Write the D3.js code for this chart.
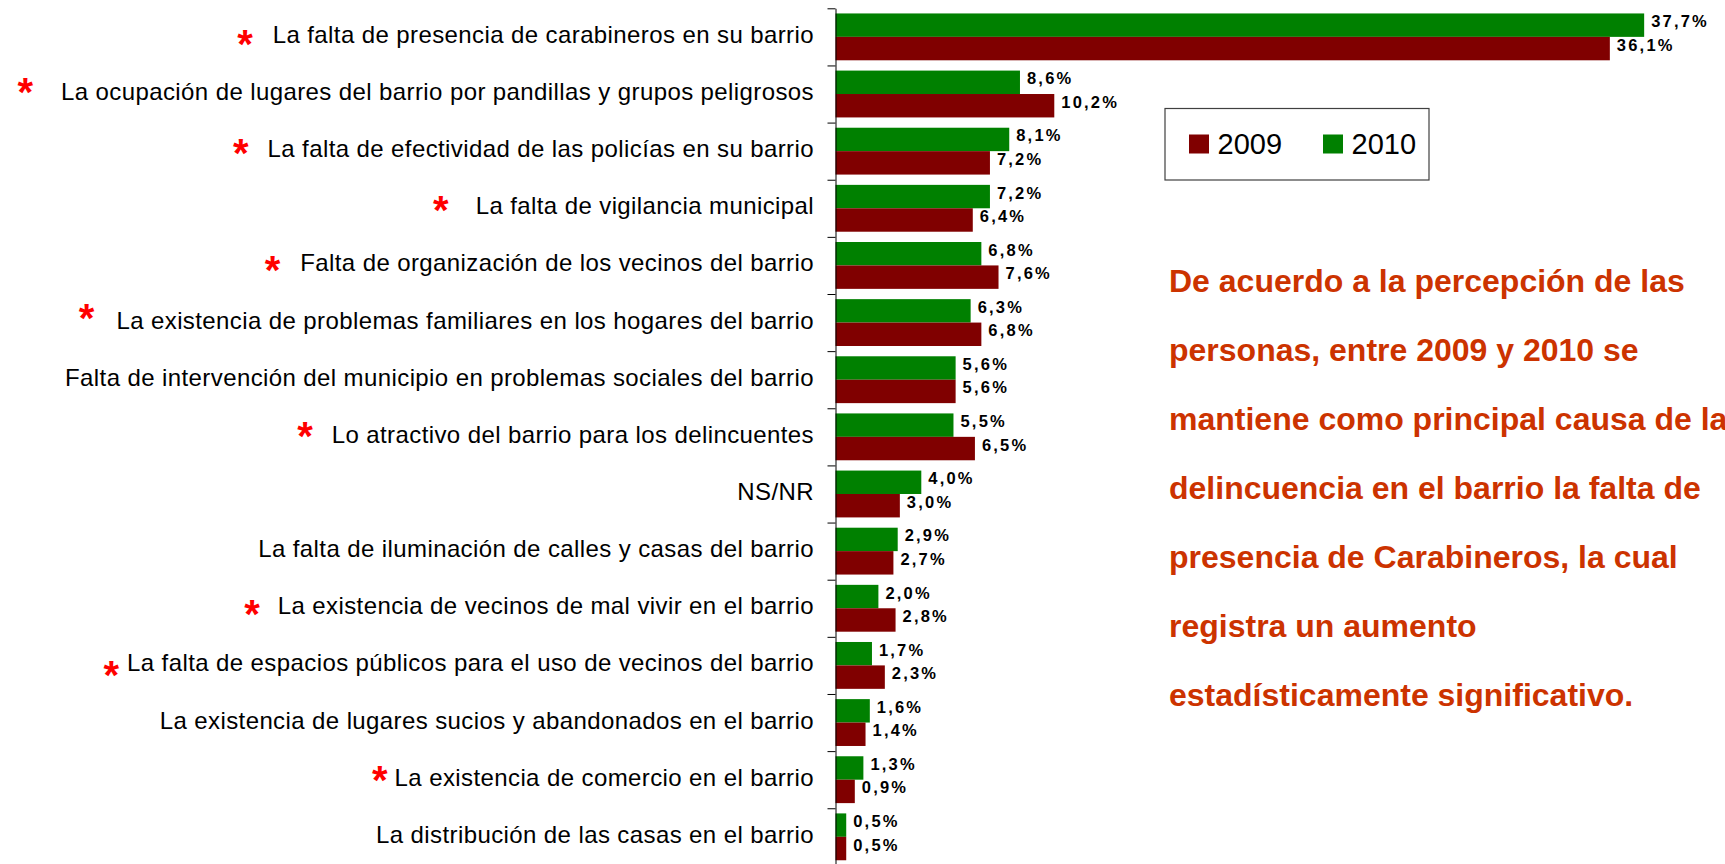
<!DOCTYPE html>
<html>
<head>
<meta charset="utf-8">
<script src="https://cdn.jsdelivr.net/npm/d3@7"></script>
<style>
  html, body { margin: 0; padding: 0; background: #fff; }
  svg { display: block; font-family: "Liberation Sans", Arial, sans-serif; }
</style>
</head>
<body>
<svg id="chart" width="1725" height="864"></svg>
<script>
// ---- data ----
var categories = [
  "La falta de presencia de carabineros en su barrio",
  "La ocupación de lugares del barrio por pandillas y grupos peligrosos",
  "La falta de efectividad de las policías en su barrio",
  "La falta de vigilancia municipal",
  "Falta de organización de los vecinos del barrio",
  "La existencia de problemas familiares en los hogares del barrio",
  "Falta de intervención del municipio en problemas sociales del barrio",
  "Lo atractivo del barrio para los delincuentes",
  "NS/NR",
  "La falta de iluminación de calles y casas del barrio",
  "La existencia de vecinos de mal vivir en el barrio",
  "La falta de espacios públicos para el uso de vecinos del barrio",
  "La existencia de lugares sucios y abandonados en el barrio",
  "La existencia de comercio en el barrio",
  "La distribución de las casas en el barrio"
];
var values2010 = [37.7, 8.6, 8.1, 7.2, 6.8, 6.3, 5.6, 5.5, 4.0, 2.9, 2.0, 1.7, 1.6, 1.3, 0.5];
var values2009 = [36.1, 10.2, 7.2, 6.4, 7.6, 6.8, 5.6, 6.5, 3.0, 2.7, 2.8, 2.3, 1.4, 0.9, 0.5];
var starred = [true, true, true, true, true, true, false, true, false, false, true, true, false, true, false];
var seriesNames = ["2009", "2010"];
var annotationLines = [
  "De acuerdo a la percepción de las",
  "personas, entre 2009 y 2010 se",
  "mantiene como principal causa de la",
  "delincuencia en el barrio la falta de",
  "presencia de Carabineros, la cual",
  "registra un aumento",
  "estadísticamente significativo."
];

// asterisk placement per row: [gap to label, vertical shift] (layout only)
var starLayout = [[20, -2], [28, -11], [19, -7], [27, -7], [20, -4], [22, -13], [0, 0], [19, -10],
  [0, 0], [0, 0], [18, -3], [8, 1], [0, 0], [7, -8], [0, 0]];

var colors = { "2009": "#800000", "2010": "#008000" };

var rows = categories.map(function(c, i) {
  return { cat: c, i: i, "2010": values2010[i], "2009": values2009[i], star: starred[i] };
});

var svg = d3.select("#chart");

var axisX = 835.5;
var x = d3.scaleLinear().domain([0, 40]).range([axisX, axisX + 858]);
var y = d3.scaleBand().domain(categories).range([8.3, 865.4])
  .paddingInner(0.18).paddingOuter(0.09);
var ySub = d3.scaleBand().domain(["2010", "2009"]).range([0, y.bandwidth()]);
var yEdge = d3.scaleLinear().domain([0, categories.length]).range([8.3, 865.4]);

// bars
var groups = svg.append("g").attr("class", "bars")
  .selectAll("g")
  .data(rows)
  .enter()
  .append("g")
    .attr("transform", function(d) { return "translate(0," + y(d.cat) + ")"; });

groups.selectAll("rect")
  .data(function(d) { return ["2010", "2009"].map(function(k) { return { key: k, value: d[k] }; }); })
  .enter()
  .append("rect")
    .attr("x", x(0))
    .attr("y", function(d) { return ySub(d.key); })
    .attr("width", function(d) { return x(d.value) - x(0); })
    .attr("height", ySub.bandwidth())
    .attr("fill", function(d) { return colors[d.key]; });

// value labels
groups.selectAll("text.val")
  .data(function(d) { return ["2010", "2009"].map(function(k) { return { key: k, value: d[k] }; }); })
  .enter()
  .append("text")
    .attr("class", "val")
    .attr("x", function(d) { return x(d.value) + 7; })
    .attr("y", function(d) { return ySub(d.key) + ySub.bandwidth() / 2 - 4; })
    .attr("dominant-baseline", "central")
    .style("font-size", "16.5px")
    .style("font-weight", "bold")
    .style("letter-spacing", "2.2px")
    .attr("fill", "#000")
    .text(function(d) { return d3.format(".1f")(d.value).replace(".", ",") + "%"; });

// axis (ticks on band edges)
svg.append("g")
  .attr("transform", "translate(" + axisX + ",0)")
  .call(d3.axisLeft(yEdge).tickValues(d3.range(0, categories.length + 1))
    .tickSize(8).tickSizeOuter(0).tickFormat(""))
  .call(function(g) {
    g.selectAll("path, line").attr("stroke", "#000").attr("stroke-width", 1);
  });

// category labels
var labels = svg.append("g").attr("class", "cats")
  .selectAll("text")
  .data(rows)
  .enter()
  .append("text")
    .attr("x", 814)
    .attr("y", function(d) { return y(d.cat) + y.bandwidth() / 2 + 6; })
    .attr("text-anchor", "end")
    .style("font-size", "24px")
    .style("letter-spacing", "0.4px")
    .attr("fill", "#000")
    .text(function(d) { return d.cat; });

// red asterisks
labels.each(function(d) {
  if (!d.star) return;
  var w = this.getComputedTextLength();
  var lay = starLayout[d.i];
  var cy = y(d.cat) + y.bandwidth() / 2 + lay[1];
  svg.append("text")
    .attr("x", 814 - w - lay[0])
    .attr("y", cy + 0.57 * 40)
    .attr("text-anchor", "end")
    .style("font-size", "40px")
    .style("font-weight", "bold")
    .attr("fill", "#ff0000")
    .text("*");
});

// legend
var legend = svg.append("g").attr("transform", "translate(1165,108.5)");
legend.append("rect")
  .attr("width", 264).attr("height", 71.5)
  .attr("fill", "#fff").attr("stroke", "#404040").attr("stroke-width", 1.2);
var legendX = d3.scalePoint().domain(seriesNames).range([24, 158]);
var li = legend.selectAll("g.item").data(seriesNames).enter().append("g")
  .attr("transform", function(d) { return "translate(" + legendX(d) + ",0)"; });
li.append("rect")
  .attr("y", 26).attr("width", 20).attr("height", 19)
  .attr("fill", function(d) { return colors[d]; });
li.append("text")
  .attr("x", 28.5).attr("y", 45)
  .style("font-size", "29px")
  .attr("fill", "#000")
  .text(function(d) { return d; });

// annotation (last letter of line 3 runs off the right edge, as in the source)
svg.append("g").attr("class", "note")
  .selectAll("text")
  .data(annotationLines)
  .enter()
  .append("text")
    .attr("x", 1169)
    .attr("y", function(d, i) { return 292.3 + i * 68.93; })
    .style("font-size", "32px")
    .style("font-weight", "bold")
    .attr("fill", "#cc3300")
    .text(function(d) { return d; });
</script>
</body>
</html>
